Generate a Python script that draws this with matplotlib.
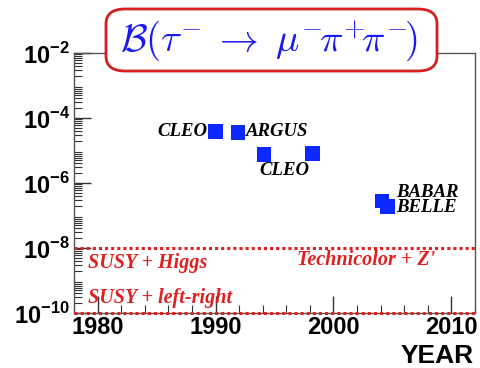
import numpy as np
import matplotlib.pyplot as plt
from matplotlib.patches import FancyBboxPatch
from matplotlib.ticker import LogLocator, MultipleLocator, NullFormatter

# measured limits
years = [1990.0, 1991.9, 1994.1, 1998.2, 2004.1, 2004.6]
limits = [3.8e-5, 3.6e-5, 7.4e-6, 8.2e-6, 2.8e-7, 1.9e-7]
model_levels = [1e-8, 1e-10]

exp_labels = ['CLEO', 'ARGUS', 'CLEO', 'BABAR', 'BELLE']
exp_pos = [(1989.3, 3.8e-5), (1992.6, 3.8e-5), (1995.8, 2.4e-6), (2005.3, 5.2e-7), (2005.3, 1.75e-7)]
exp_ha = ['right', 'left', 'center', 'left', 'left']

model_labels = ['SUSY + Higgs', "Technicolor + Z'", 'SUSY + left-right']
model_pos = [(1979.2, 3.4e-9), (2008.6, 4.3e-9), (1979.2, 2.9e-10)]
model_ha = ['left', 'right', 'left']

plt.rcParams['mathtext.fontset'] = 'custom'
plt.rcParams['mathtext.rm'] = 'Liberation Sans:bold'
plt.rcParams['mathtext.bf'] = 'Liberation Sans:bold'

fig = plt.figure(figsize=(4.8, 3.68), dpi=100)
ax = fig.add_axes([74 / 480, 1 - 313 / 368, 401 / 480, 260 / 368])

ax.set_yscale('log')
ax.set_xlim(1978, 2012)
ax.set_ylim(1e-10, 1e-2)

for lvl in model_levels:
    ax.axhline(lvl, color='#e02020', lw=2.2, ls=(0, (1, 1)), zorder=3, clip_on=False)

ax.scatter(years, limits, marker='s', s=110, color='#0a28ff', edgecolors='none', zorder=4)

serif = ['Liberation Serif', 'DejaVu Serif']
for t, (x, y), ha in zip(exp_labels, exp_pos, exp_ha):
    ax.text(x, y, t, ha=ha, va='center', family=serif, style='italic',
            weight='bold', fontsize=13.5, color='black')
for t, (x, y), ha in zip(model_labels, model_pos, model_ha):
    ax.text(x, y, t, ha=ha, va='center', family=serif, style='italic',
            weight='bold', fontsize=14.5, color='#e02020')

for s in ax.spines.values():
    s.set_color('#555555')
    s.set_linewidth(1.0)

ax.set_yticks([1e-10, 1e-8, 1e-6, 1e-4, 1e-2])
ax.set_yticklabels(['10$^{\\mathrm{-10}}$', '10$^{\\mathrm{-8}}$', '10$^{\\mathrm{-6}}$',
                    '10$^{\\mathrm{-4}}$', '10$^{\\mathrm{-2}}$'])
ax.yaxis.set_minor_locator(LogLocator(base=10, subs=np.arange(2, 10), numticks=20))
ax.yaxis.set_minor_formatter(NullFormatter())
ax.xaxis.set_major_locator(MultipleLocator(10))
ax.xaxis.set_minor_locator(MultipleLocator(2))

ax.tick_params(axis='both', which='both', direction='in', color='#333333')
ax.tick_params(axis='y', which='major', length=12, width=1, pad=3)
ax.tick_params(axis='y', which='minor', length=6, width=0.8)
ax.tick_params(axis='x', which='major', length=12, width=1, pad=2)
ax.tick_params(axis='x', which='minor', length=6, width=0.8)
ax.tick_params(right=False, top=False)

for lab in ax.get_xticklabels() + ax.get_yticklabels():
    lab.set_family(['Liberation Sans', 'DejaVu Sans'])
    lab.set_fontweight('bold')
    lab.set_fontsize(17)
    lab.set_clip_on(False)

fig.text(474 / 480, 1 - 356 / 368, 'YEAR', ha='right', va='center',
         family=['Liberation Sans', 'DejaVu Sans'], weight='bold', fontsize=19)

box = FancyBboxPatch((106 / 480, 1 - 71 / 368), 331 / 480, 62 / 368,
                     boxstyle='round,pad=0,rounding_size=0.04', transform=fig.transFigure,
                     facecolor='white', edgecolor='#d42020', lw=2, zorder=5)
fig.add_artist(box)
fig.text(269 / 480, 1 - 41 / 368,
         '$\\mathcal{B}(\\tau^{-}\\;\\rightarrow\\;\\mu^{-}\\!\\pi^{+}\\!\\pi^{-}\\!)$',
         ha='center', va='center', color='#1a1aee', fontsize=28, zorder=6,
         math_fontfamily='cm')

fig.savefig('out.png', dpi=100)
